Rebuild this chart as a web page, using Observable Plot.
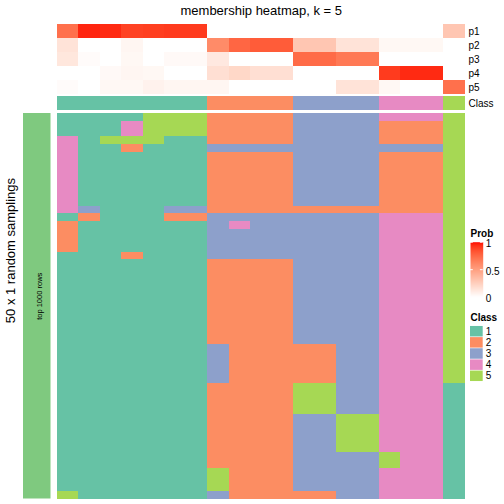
<!DOCTYPE html>
<html><head><meta charset="utf-8">
<script src="https://cdn.jsdelivr.net/npm/d3@7"></script>
<script src="https://cdn.jsdelivr.net/npm/@observablehq/plot@0.6"></script>
<style>
body{margin:0;background:#fff;}
#root{position:relative;width:504px;height:504px;overflow:hidden;background:#fff;font-family:"Liberation Sans",Arial,sans-serif;}
#root svg{position:absolute;overflow:visible;}
</style></head>
<body><div id="root"></div>
<script>
// ---- data ----
const columns = ["s01","s02","s03","s04","s05","s06","s07","s08","s09","s10","s11","s12","s13","s14","s15","s16","s17","s18","s19"];
const probRows = ["p1","p2","p3","p4","p5"];
const p1 = [0.72,0.96,0.95,0.89,0.90,0.91,0.91,0,0,0,0,0,0,0,0,0,0,0,0.30];
const p2 = [0.15,0,0,0.05,0,0,0,0.60,0.76,0.80,0.80,0.30,0.30,0.15,0.15,0.04,0.04,0.04,0];
const p3 = [0.13,0.02,0,0.04,0,0.03,0.03,0.12,0,0,0,0.74,0.74,0.68,0.68,0,0,0,0];
const p4 = [0,0,0.03,0.05,0.04,0,0,0.17,0.21,0.17,0.17,0,0,0,0,0.91,0.95,0.95,0];
const p5 = [0.02,0,0.04,0.04,0.07,0.05,0.05,0.05,0,0,0,0,0,0.15,0.15,0.04,0,0,0.72];
const sampleClass = [1,1,1,1,1,1,1,2,2,2,2,3,3,3,3,4,4,4,5];
const classLabels = [1,2,3,4,5];
const classColors = ["#66C2A5","#FC8D62","#8DA0CB","#E78AC3","#A6D854"];
const probTicks = [0,0.5,1];
// one string per random sampling, one digit (class) per column
const samplings = [
"1111555222233334445",
"1114555222233332225",
"1114555222233332225",
"4155511222233332225",
"4112111333333333335",
"4111111222233332225",
"4111111222233332225",
"4111111222233332225",
"4111111222233332225",
"4111111222233332225",
"4111111222233332225",
"4111111222233332225",
"4311133222222222225",
"1211122333333334445",
"2111111343333334445",
"2111111333333334445",
"2111111333333334445",
"2111111333333334445",
"1112111333333334445",
"1111111222233334445",
"1111111222233334445",
"1111111222233334445",
"1111111222233334445",
"1111111222233334445",
"1111111222233334445",
"1111111222233334445",
"1111111222233334445",
"1111111222233334445",
"1111111222233334445",
"1111111222233334445",
"1111111322222334445",
"1111111322222334445",
"1111111322222334445",
"1111111322222334445",
"1111111322222334445",
"1111111222255334441",
"1111111222255334441",
"1111111222255334441",
"1111111222255334441",
"1111111222233554441",
"1111111222233554441",
"1111111222233554441",
"1111111222233554441",
"1111111222233554441",
"1111111222233335441",
"1111111222233335441",
"1111111522233334441",
"1111111522233334441",
"1111111522233334441",
"5111111322222334441"
];
const title = "membership heatmap, k = 5";
const rowTitle = "50 x 1 random samplings";
const splitLabel = "top 1000 rows";
const barColor = "#7FC97F";

// ---- build tables ----
const probValues = [p1,p2,p3,p4,p5];
const probData = probRows.flatMap((r,i) => probValues[i].map((v,j) => ({row:r, col:columns[j], v})));
const classData = sampleClass.map((c,j) => ({row:"Class", col:columns[j], cls:c}));
const rowIds = samplings.map((s,i) => i);
const mainData = samplings.flatMap((s,i) => [...s].map((c,j) => ({row:i, col:columns[j], cls:+c})));

const font = "'Liberation Sans', Arial, sans-serif";
const mL = 57, mR = 39.5;
const root = document.getElementById("root");
function place(svg, top, left) {
  svg.style.top = top + "px";
  svg.style.left = left + "px";
  root.appendChild(svg);
}
const style = {fontFamily: font, fontSize: "10px", background: "transparent", color: "black"};
const probColor = {type:"linear", domain:[0,1], range:["white","red"], interpolate:"lab"};
const classColor = {type:"ordinal", domain:classLabels, range:classColors};
const colX = {type:"band", domain: columns, padding: 0, round: false, axis: null};

// top annotation: probabilities
place(Plot.plot({
  width: 504, height: 94, marginTop: 24, marginBottom: 0, marginLeft: mL, marginRight: mR,
  style,
  x: colX,
  y: {type:"band", domain: probRows, padding: 0, round: false},
  color: probColor,
  marks: [
    Plot.cell(probData, {x:"col", y:"row", fill:"v", shapeRendering:"crispEdges"}),
    Plot.axisY({anchor:"right", tickSize:0, tickPadding:3.5, fontSize:10, label:null}),
    Plot.text([title], {frameAnchor:"top", dy:-10, lineAnchor:"bottom", fontSize:13})
  ]
}), 0, 0);

// class annotation row
place(Plot.plot({
  width: 504, height: 14, marginTop: 0, marginBottom: 0, marginLeft: mL, marginRight: mR,
  style,
  x: colX,
  y: {type:"band", domain: ["Class"], padding: 0, round: false},
  color: classColor,
  marks: [
    Plot.cell(classData, {x:"col", y:"row", fill:"cls", shapeRendering:"crispEdges"}),
    Plot.axisY({anchor:"right", tickSize:0, tickPadding:3.5, fontSize:10, label:null})
  ]
}), 96, 0);

// main heatmap
place(Plot.plot({
  width: 504, height: 385.5, marginTop: 0, marginBottom: 0, marginLeft: mL, marginRight: mR,
  style,
  x: colX,
  y: {type:"band", domain: rowIds, padding: 0, round: false, axis: null},
  color: classColor,
  marks: [
    Plot.cell(mainData, {x:"col", y:"row", fill:"cls", shapeRendering:"crispEdges"})
  ]
}), 113, 0);

// left split bar and titles
place(Plot.plot({
  width: 57, height: 504, marginTop: 113, marginBottom: 5.5, marginLeft: 23, marginRight: 6.5,
  style,
  x: {type:"band", domain: ["bar"], padding: 0, round: false, axis: null},
  y: {type:"band", domain: [splitLabel], padding: 0, round: false, axis: null},
  marks: [
    Plot.cell([splitLabel], {x: () => "bar", y: d => d, fill: barColor}),
    Plot.text([splitLabel], {frameAnchor:"middle", rotate:-90, fontSize:7.5, dx:2, dy:-10}),
    Plot.text([rowTitle], {frameAnchor:"left", textAnchor:"middle", rotate:-90, fontSize:13, dx:-12.7, dy:-55.7})
  ]
}), 0, 0);

// Prob legend
place(Plot.plot({
  width: 39, height: 80, marginTop: 16.7, marginBottom: 8.3, marginLeft: 5, marginRight: 21.3,
  style,
  x: {domain:[0,1], axis:null},
  y: {domain:[0,1]},
  color: probColor,
  marks: [
    Plot.raster({x1:0, x2:1, y1:0, y2:1, fill:(x,y) => y, pixelSize:0.5}),
    Plot.ruleY([0.5,1], {x1:0, x2:0.22, stroke:"white", strokeWidth:1}),
    Plot.ruleY([0.5,1], {x1:0.78, x2:1, stroke:"white", strokeWidth:1}),
    Plot.axisY(probTicks, {anchor:"right", tickSize:0, tickPadding:2.5, fontSize:10, label:null, tickFormat:d => String(d), dy:2}),
    Plot.text(["Prob"], {frameAnchor:"top-left", dy:-5, lineAnchor:"bottom", textAnchor:"start", fontWeight:"bold", fontSize:10})
  ]
}), 225, 465);

// Class legend
place(Plot.plot({
  width: 39, height: 80, marginTop: 20.3, marginBottom: 3.3, marginLeft: 5, marginRight: 21.3,
  style,
  x: {type:"band", domain:["key"], padding:0, round:false, axis:null},
  y: {type:"band", domain: classLabels, padding: 0.06, round:false},
  color: classColor,
  marks: [
    Plot.cell(classLabels, {x: () => "key", y: d => d, fill: d => d}),
    Plot.axisY({anchor:"right", tickSize:0, tickPadding:2.5, fontSize:10, label:null}),
    Plot.text(["Class"], {frameAnchor:"top-left", dy:-4.6, lineAnchor:"bottom", textAnchor:"start", fontWeight:"bold", fontSize:10})
  ]
}), 305, 465);
</script>
</body></html>
